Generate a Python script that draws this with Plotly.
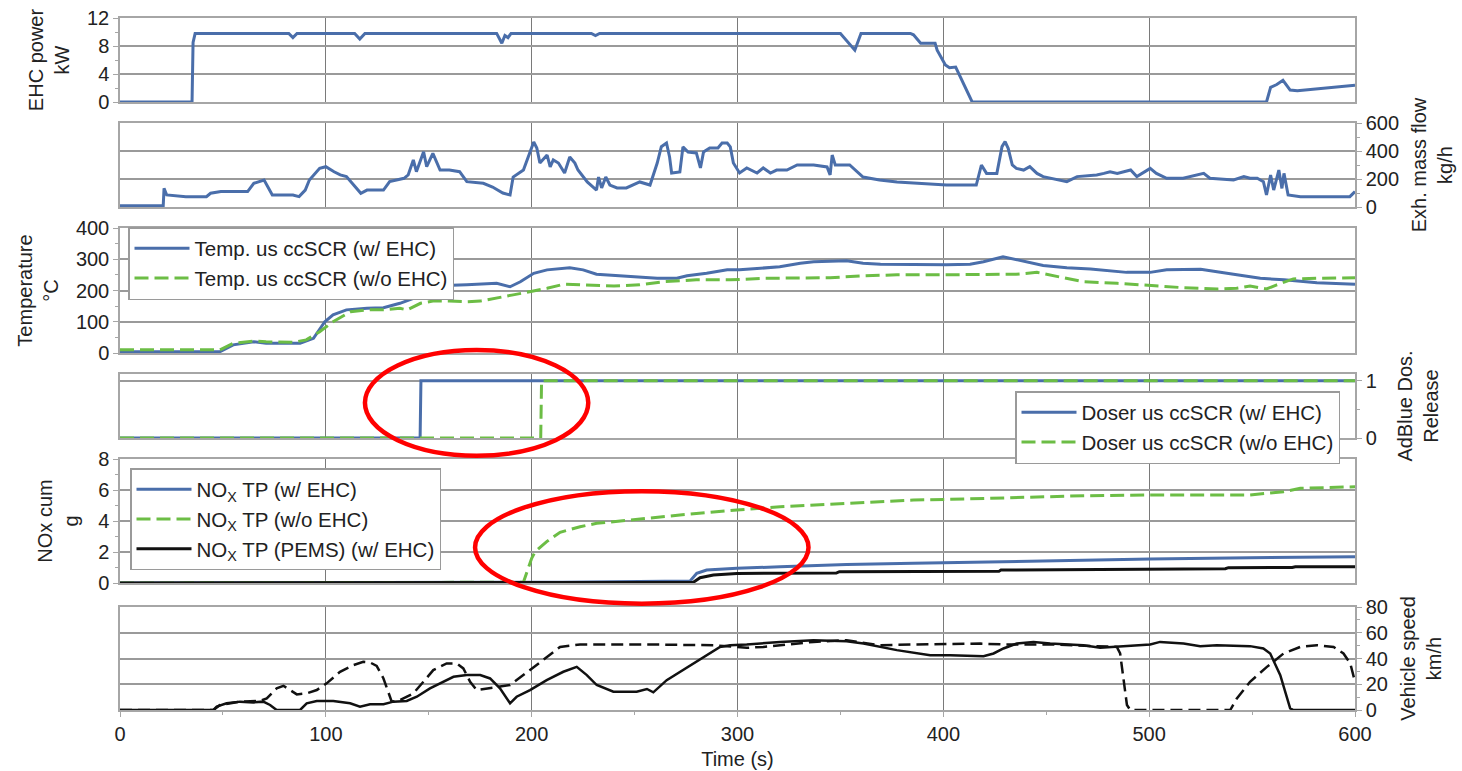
import plotly.graph_objects as go

# ---------------- data ----------------
# Panel 1: EHC power (kW)
ehc_t = [0, 35, 35.5, 36.5, 82, 84, 86, 114, 116.5, 119, 183, 185.5, 187, 188.5, 190,
         229, 231, 233, 350, 354, 357, 360, 384, 385.5, 389, 396, 397, 401, 403, 406, 414,
         557, 559, 562, 565, 568.5, 572, 600]
ehc_kw = [0, 0, 8.5, 9.8, 9.8, 9.2, 9.8, 9.8, 9.0, 9.8, 9.8, 8.4, 9.5, 9.2, 9.8,
          9.8, 9.5, 9.8, 9.8, 8.5, 7.4, 9.8, 9.8, 9.6, 8.4, 8.4, 7.4, 5.3, 4.9, 5.0, 0,
          0, 2.1, 2.5, 3.1, 1.7, 1.6, 2.4]

# Panel 2: exhaust mass flow (kg/h)
flow_t = [0, 21, 21.4, 22.7, 32, 42, 44, 49, 62, 65, 70, 74, 84, 87, 90, 92, 97, 100, 104, 107,
          110, 113, 117, 120, 128, 131, 138, 140, 142.5, 144, 147.5, 149, 152, 155.5, 160, 165,
          168.5, 176.5, 181, 186, 189.5, 191, 196, 201, 202.5, 204, 207.5, 209, 210.5, 213,
          216, 218.5, 221, 222.5, 227, 231.5, 232.5, 234, 236, 238, 241.5, 246, 252.5, 257.5,
          261, 263, 265.5, 267, 268, 272, 273.5, 276, 280, 282, 283.5, 286.5, 290.5, 292.5,
          295, 296.5, 298, 301, 304.5, 309.5, 312.5, 316, 319, 324, 329, 337, 343.5, 345, 346,
          347.5, 354.5, 361, 369, 377.5, 385.5, 401.5, 416, 418.5, 421, 426, 428.5, 430, 431.5,
          433.5, 435.5, 439, 442, 445.5, 448.5, 452, 460, 465, 474.5, 478, 481, 484.5, 491,
          494, 500.5, 503.5, 508.5, 516.5, 526.5, 529.5, 541, 546, 549, 552.5, 555.5, 557,
          559, 560.5, 563, 564.5, 565.5, 567.5, 573.5, 597.5, 600]
flow_kgh = [9, 9, 133, 86, 74, 74, 98, 110, 110, 169, 193, 86, 86, 74, 121, 193, 276, 288, 252, 229,
            217, 169, 98, 121, 121, 181, 205, 229, 336, 252, 395, 288, 383, 264, 264, 252,
            181, 169, 143, 100, 86, 214, 264, 464, 421, 314, 371, 286, 336, 314,
            243, 357, 314, 264, 179, 121, 214, 136, 214, 157, 136, 136, 179, 157,
            314, 431, 457, 357, 243, 250, 429, 393, 386, 279, 393, 421, 421, 457,
            457, 429, 314, 243, 279, 243, 279, 243, 264, 264, 300, 300, 286, 229, 371,
            300, 300, 214, 193, 179, 171, 157, 157, 300, 240, 240, 431, 467, 419,
            300, 276, 264, 288, 240, 217, 205, 181, 217, 229, 240, 252, 240, 264,
            217, 276, 240, 205, 205, 240, 205, 193, 217, 205, 205, 181, 86,
            229, 121, 264, 133, 240, 86, 74, 74, 110]

# Panel 3: temperature upstream ccSCR (°C)
temp_t_w = [0, 48.5, 55, 65, 71, 87.5, 94, 99.5, 103.5, 110, 120, 128, 136, 142.5, 149, 154,
            168.5, 183, 189.5, 194.5, 201, 207.5, 218.5, 225, 231.5, 248, 261, 270.5, 275.5,
            285, 295, 301, 312.5, 320.5, 330.5, 337, 353, 361, 369.5, 385.5, 401.5, 413,
            419.5, 429, 435.5, 448.5, 460, 471.5, 489, 500.5, 508.5, 525, 541, 554, 565.5,
            581.5, 600]
temp_w = [4, 4, 26, 36, 31, 31, 47, 100, 122, 138, 143, 145, 159, 175, 207, 215,
          218, 223, 212, 228, 255, 266, 273, 266, 252, 244, 239, 239, 247,
          255, 266, 266, 273, 276, 287, 292, 295, 287, 284, 282, 282, 284,
          292, 308, 298, 280, 273, 269, 258, 258, 266, 268, 252, 239, 234,
          225, 220]
temp_t_wo = [0, 48.5, 55, 65, 71, 84, 90.5, 97, 103.5, 112, 120, 128, 136, 139.5, 146, 152,
             160, 168.5, 175, 183, 191, 199, 207.5, 215.5, 223.5, 240, 252.5, 264, 280, 296.5,
             312.5, 329, 345, 361, 377.5, 393.5, 418, 435.5, 445.5, 452, 460, 468, 484.5,
             500.5, 516.5, 533, 542.5, 549, 557, 562, 570, 581.5, 600]
temp_wo = [10, 10, 31, 38, 36, 34, 42, 68, 100, 132, 138, 138, 143, 138, 159, 166,
           166, 164, 166, 175, 186, 196, 207, 220, 218, 214, 218, 228, 234, 234,
           239, 241, 241, 247, 250, 250, 250, 252, 258, 250, 239, 228, 223,
           215, 209, 205, 207, 214, 205, 218, 237, 239, 241]

# Panel 4: AdBlue dosing release (0/1)
dos_t_w = [0, 145.8, 146.2, 600]
dos_w = [0, 0, 1, 1]
dos_t_wo = [0, 204.4, 204.8, 600]
dos_wo = [0, 0, 1, 1]

# Panel 5: cumulative NOx tailpipe (g)
nox_t_w = [0, 215, 277, 280.2, 285, 299.7, 320.7, 353, 385.5, 418, 435.7, 468, 500.5, 549, 581.5, 600]
nox_w = [0, 0.05, 0.13, 0.62, 0.84, 0.95, 1.05, 1.2, 1.27, 1.35, 1.38, 1.48, 1.55, 1.63, 1.7, 1.7]
nox_t_wo = [0, 196, 200, 201.7, 207.3, 213.8, 223.5, 231.6, 247.8, 272, 299.7, 320.7, 353,
            385.5, 410, 435.7, 468, 500.5, 549, 565.3, 573.4, 600]
nox_wo = [0, 0.05, 1.59, 2.02, 2.67, 3.27, 3.63, 3.85, 4.06, 4.39, 4.71, 4.92, 5.14,
          5.35, 5.42, 5.5, 5.63, 5.68, 5.68, 5.89, 6.11, 6.21]
nox_t_pems = [0, 278.6, 281.8, 288.3, 299.7, 348, 349.5, 427, 428, 464.5, 465.5, 537, 538.5, 569.5, 571, 600]
nox_pems = [0, 0.05, 0.34, 0.52, 0.62, 0.64, 0.73, 0.75, 0.84, 0.86, 0.9, 0.92, 0.99, 1.0, 1.05, 1.05]

# Panel 6: vehicle speed (km/h)
speed_t_w = [0, 45.4, 47, 51.8, 58.3, 64.8, 69.6, 72.9, 76.1, 87.5, 90.7, 95.6, 103.6, 111.8,
             116.6, 121.5, 128, 132.8, 139.3, 144.2, 150.6, 157.1, 162, 168.5, 175, 179.8,
             184.6, 189.5, 192.7, 199.2, 207.3, 215.4, 221.9, 226.8, 231.6, 239.7, 251, 256,
             259.1, 265.6, 272.1, 278.6, 285, 291.5, 296.4, 304.5, 320.7, 336.9, 353, 361.2,
             377.4, 393.6, 403.3, 419.5, 424.4, 429.2, 435.7, 443.8, 451.9, 468, 476.2, 484.3,
             500.5, 505.3, 516.7, 524.8, 532.9, 549, 555.5, 558.8, 563.7, 568.5, 570.1, 600]
speed_w = [0, 0, 2.6, 5.2, 6.5, 5.9, 6.5, 3.9, 0, 0, 5.2, 7, 7, 5.2,
           2.6, 4.4, 4.4, 6.5, 7, 10.3, 16.8, 21.9, 25.8, 27.1, 27.1, 24.5,
           16.8, 5.2, 10.3, 15.5, 23.2, 29.7, 33.5, 27.1, 19.4, 14.2, 14.2, 16.3,
           13.7, 23.2, 29.7, 36.2, 42.6, 49, 50.3, 50.9, 52.9, 54.2, 53.4, 51.6,
           46.5, 42.6, 42.6, 41.8, 43.9, 47.8, 51.6, 52.9, 51.6, 50.3, 48.3, 49,
           50.9, 52.9, 51.6, 49.6, 50.3, 49.6, 47.8, 43.9, 27.1, 1.3, 0, 0]
speed_t_wo = [0, 45.4, 48.6, 58.3, 68, 71.3, 76.1, 79.4, 82.6, 85.9, 90.7, 95.6, 100.4, 106.9,
              113.4, 118.2, 121.5, 124.7, 128, 132, 136, 142.5, 147.4, 152.2, 158.7, 163.6,
              166.8, 170.1, 173.3, 178.2, 184.6, 189.5, 199.2, 207.3, 213.8, 223.5, 256, 288.3,
              304.5, 312.6, 336.9, 353, 369.3, 385.5, 418, 429.2, 451.9, 484.3, 485.9, 487.5,
              489.2, 490.8, 539.4, 542.6, 549, 557.2, 565.3, 573.4, 581.5, 589.6, 594.4, 597.7, 600]
speed_wo = [0, 0, 3.9, 6.5, 7, 9, 16.8, 18.8, 15.5, 12.1, 12.9, 15.5, 20.7, 29.7,
            34.9, 37.4, 36.9, 34.3, 24.5, 6.5, 7.7, 12.9, 21.9, 31, 36.2, 36.2,
            32.3, 21.9, 15.5, 16.8, 18, 19.4, 31, 41.3, 49, 50.9, 50.9, 50.3,
            48.3, 49, 52.9, 54.2, 50.3, 50.9, 51.6, 50.9, 50.9, 49, 43.9, 24.5,
            3.9, 0, 0, 9, 21.9, 33.5, 43.9, 49, 50.3, 49, 43.9, 36.2, 21.9]

for a, b in [(ehc_t, ehc_kw), (flow_t, flow_kgh), (temp_t_w, temp_w), (temp_t_wo, temp_wo),
             (nox_t_w, nox_w), (nox_t_wo, nox_wo), (nox_t_pems, nox_pems),
             (speed_t_w, speed_w), (speed_t_wo, speed_wo)]:
    assert len(a) == len(b), (len(a), len(b))

x_ticks = [0, 100, 200, 300, 400, 500, 600]

# highlight ellipses (time range, paper-y range)
ellipse1 = dict(t0=119, t1=227.5, y0=0.409, y1=0.546)
ellipse2 = dict(t0=172.5, t1=334.5, y0=0.217, y1=0.363)

# ---------------- styling ----------------
BLUE = "#4a6eaa"
GREEN = "#6cbd45"
BLACK = "#111111"
FONT = "Liberation Sans, Arial, sans-serif"
FS = 20
LFS = 20.5
TXT = "#222222"
GRID = "#9a9a9a"
VGRID = "#7a7a7a"
FRAME = "#a6a6a6"

W, H = 1462, 771
X0, X1 = 120 / W, 1355 / W


def ydom(top_px, bot_px):
    return [1 - bot_px / H, 1 - top_px / H]


fig = go.Figure()

# Panel 1
fig.add_trace(go.Scatter(x=ehc_t, y=ehc_kw, mode="lines", line=dict(color=BLUE, width=3),
                         showlegend=False, xaxis="x", yaxis="y", name="EHC power"))
# Panel 2
fig.add_trace(go.Scatter(x=flow_t, y=flow_kgh, mode="lines", line=dict(color=BLUE, width=3),
                         showlegend=False, xaxis="x2", yaxis="y2", name="Exh. mass flow"))
# Panel 3
fig.add_trace(go.Scatter(x=temp_t_w, y=temp_w, mode="lines", line=dict(color=BLUE, width=3),
                         name="Temp. us ccSCR (w/ EHC)", legend="legend", xaxis="x3", yaxis="y3"))
fig.add_trace(go.Scatter(x=temp_t_wo, y=temp_wo, mode="lines",
                         line=dict(color=GREEN, width=3, dash="14px,6px"),
                         name="Temp. us ccSCR (w/o EHC)", legend="legend", xaxis="x3", yaxis="y3"))
# Panel 4
fig.add_trace(go.Scatter(x=dos_t_w, y=dos_w, mode="lines", line=dict(color=BLUE, width=3),
                         name="Doser us ccSCR (w/ EHC)", legend="legend2", xaxis="x4", yaxis="y4"))
fig.add_trace(go.Scatter(x=dos_t_wo, y=dos_wo, mode="lines",
                         line=dict(color=GREEN, width=3, dash="14px,6px"),
                         name="Doser us ccSCR (w/o EHC)", legend="legend2", xaxis="x4", yaxis="y4"))
# Panel 5
fig.add_trace(go.Scatter(x=nox_t_w, y=nox_w, mode="lines", line=dict(color=BLUE, width=3),
                         name="NO<sub>X</sub> TP (w/ EHC)", legend="legend3", xaxis="x5", yaxis="y5"))
fig.add_trace(go.Scatter(x=nox_t_wo, y=nox_wo, mode="lines",
                         line=dict(color=GREEN, width=3, dash="14px,6px"),
                         name="NO<sub>X</sub> TP (w/o EHC)", legend="legend3", xaxis="x5", yaxis="y5"))
fig.add_trace(go.Scatter(x=nox_t_pems, y=nox_pems, mode="lines", line=dict(color=BLACK, width=3),
                         name="NO<sub>X</sub> TP (PEMS) (w/ EHC)", legend="legend3", xaxis="x5", yaxis="y5"))
# Panel 6
fig.add_trace(go.Scatter(x=speed_t_w, y=speed_w, mode="lines", line=dict(color=BLACK, width=2.5),
                         showlegend=False, name="Vehicle speed (w/ EHC)", xaxis="x6", yaxis="y6"))
fig.add_trace(go.Scatter(x=speed_t_wo, y=speed_wo, mode="lines",
                         line=dict(color=BLACK, width=2.5, dash="12px,6px"),
                         showlegend=False, name="Vehicle speed (w/o EHC)", xaxis="x6", yaxis="y6"))

tickfont = dict(family=FONT, size=FS, color=TXT)
titlefont = dict(family=FONT, size=FS, color=TXT)


def xaxis(anchor, show_labels):
    d = dict(domain=[X0, X1], anchor=anchor, range=[0, 600], tickvals=x_ticks,
             showgrid=True, gridcolor=VGRID, gridwidth=1.3, zeroline=False,
             showline=True, mirror=True, linecolor=FRAME, linewidth=1.5,
             automargin=False, tickfont=tickfont, showticklabels=show_labels,
             ticks="outside" if show_labels else "", ticklen=5, tickcolor=FRAME)
    if show_labels:
        d["minor"] = dict(ticks="outside", ticklen=3, dtick=50, tickcolor=FRAME, showgrid=False)
        d["title"] = dict(text="Time (s)", font=titlefont, standoff=8)
    else:
        d["matches"] = "x6"
    return d


def yaxis(dom, rng, dtick, minor, side, title, standoff, anchor, tickvals=None):
    d = dict(domain=dom, range=rng, side=side, anchor=anchor,
             showgrid=True, gridcolor=GRID, gridwidth=1.5, zeroline=False,
             showline=True, mirror=True, linecolor=FRAME, linewidth=1.5,
             ticks="outside", ticklen=5, tickcolor=FRAME, tickfont=tickfont,
             automargin=False,
             title=dict(text=title, font=titlefont, standoff=standoff),
             minor=dict(ticks="outside", ticklen=3, dtick=minor, tickcolor=FRAME, showgrid=False))
    if tickvals is not None:
        d["tickvals"] = tickvals
    else:
        d["dtick"] = dtick
    return d


layout = dict(
    width=W, height=H,
    margin=dict(l=0, r=0, t=0, b=0),
    paper_bgcolor="white", plot_bgcolor="white",
    font=dict(family=FONT, size=FS, color=TXT),
    xaxis=xaxis("y", False), xaxis2=xaxis("y2", False), xaxis3=xaxis("y3", False),
    xaxis4=xaxis("y4", False), xaxis5=xaxis("y5", False), xaxis6=xaxis("y6", True),
    yaxis=yaxis(ydom(18, 102), [0, 12], 4, 2, "left", "EHC power<br>kW", 12, "x"),
    yaxis2=yaxis(ydom(123, 207), [0, 600], 200, 100, "right", "Exh. mass flow<br>kg/h", 14, "x2"),
    yaxis3=yaxis(ydom(228, 353), [0, 400], 100, 50, "left", "Temperature<br>°C", 12, "x3"),
    yaxis4=yaxis(ydom(374, 438), [0, 1.12], 1, 0.5, "right", "AdBlue Dos.<br>Release", 22, "x4",
                 tickvals=[0, 1]),
    yaxis5=yaxis(ydom(459, 583), [0, 8], 2, 1, "left", "NOx cum<br>g", 14, "x5"),
    yaxis6=yaxis(ydom(607, 710), [0, 80], 20, 10, "right", "Vehicle speed<br>km/h", 14, "x6"),
)

legend_style = dict(bgcolor="white", bordercolor="#9a9a9a", borderwidth=1.5,
                    font=dict(family=FONT, size=LFS, color=TXT), xanchor="left", yanchor="top",
                    tracegroupgap=0, itemwidth=55)
layout["legend"] = dict(x=128 / W, y=1 - 227 / H, **legend_style)
layout["legend2"] = dict(x=1015 / W, y=1 - 391 / H, **legend_style)
layout["legend3"] = dict(x=130 / W, y=1 - 468 / H, **legend_style)

layout["shapes"] = [
    dict(type="circle", xref="x6", yref="paper", x0=e["t0"], x1=e["t1"], y0=e["y0"], y1=e["y1"],
         line=dict(color="#ff0000", width=4.5), layer="above")
    for e in (ellipse1, ellipse2)
]

fig.update_layout(**layout)
fig.write_html("out.html")
